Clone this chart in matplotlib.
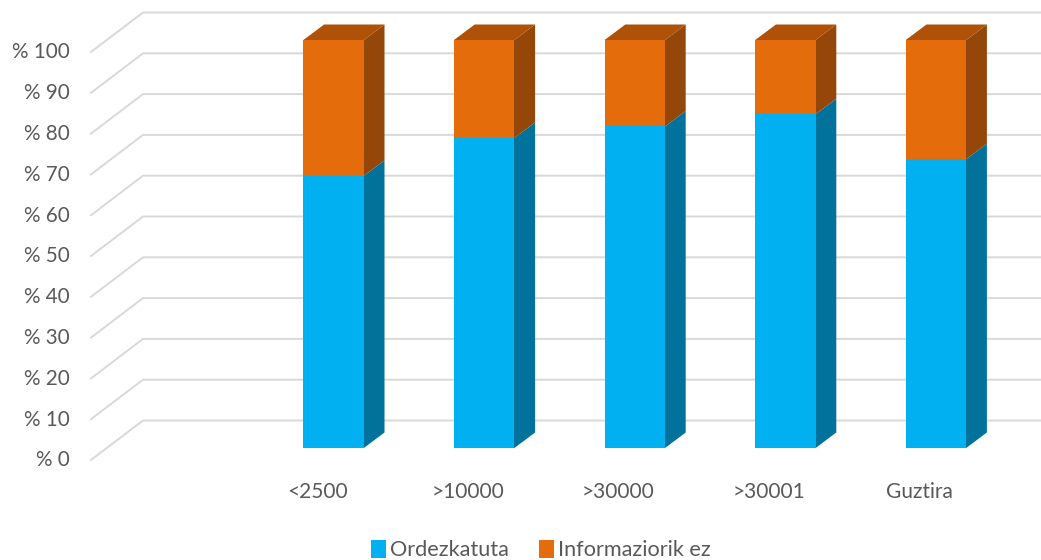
import matplotlib
matplotlib.use("Agg")
import matplotlib.pyplot as plt
from matplotlib.patches import Polygon, Patch

categories = ["<2500", ">10000", ">30000", ">30001", "Guztira"]
ordezkatuta = [66.7, 76, 78.8, 81.8, 70.8]
informaziorik = [33.3, 24, 21.2, 18.2, 29.2]
ticks = [0, 10, 20, 30, 40, 50, 60, 70, 80, 90, 100]
tick_labels = ["% 0", "% 10", "% 20", "% 30", "% 40", "% 50", "% 60", "% 70", "% 80", "% 90", "% 100"]

W, H = 1041, 560
plt.rcParams["font.family"] = ["Lato", "DejaVu Sans"]
fig = plt.figure(figsize=(W / 100, H / 100), dpi=100)
ax = fig.add_axes([0, 0, 1, 1])

# scale: category index -> pixel, percent -> pixel (y inverted in picture)
X0, XS = 333.6, 150.6
Y0, YS = 448.0, 4.08
ax.set_xlim((0 - X0) / XS, (W - X0) / XS)
ax.set_ylim((Y0 - H) / YS, Y0 / YS)
ax.axis("off")

px = 1 / XS     # one pixel in x units
py = 1 / YS     # one pixel in y units
bar_w = 60.4 * px
dx, dy = 20.7 * px, 15.5 * py

GRID = "#D9D9D9"
left_front = (91 - X0) / XS
left_back = (143 - X0) / XS
right_back = (W - X0) / XS
front_drop = -12 * py
back_rise = 27.5 * py
for t, lab in zip(ticks, tick_labels):
    ax.plot([left_front, left_back, right_back],
            [t + front_drop, t + back_rise, t + back_rise],
            color=GRID, lw=1.4, zorder=1, solid_joinstyle="miter", clip_on=False)
    ax.text((69.5 - X0) / XS, t - 12.5 * py, lab,
            ha="right", va="center", fontsize=14.9, color="#595959")

def box(i, bottom, height, front, side, top=None):
    l, r = i - bar_w / 2, i + bar_w / 2
    b, t = bottom, bottom + height
    ax.bar(i, height, bar_w, bottom=bottom, color=front, zorder=3, lw=0)
    inset = 1.5 * px   # side runs under the front face, so no seam shows
    ax.add_patch(Polygon([(r - inset, b), (r, b), (r + dx, b + dy), (r + dx, t + dy), (r, t), (r - inset, t)],
                         closed=True, fc=side, ec="none", zorder=2.5))
    if top:
        ax.add_patch(Polygon([(l, t), (l + dx, t + dy), (r + dx, t + dy), (r, t)],
                             closed=True, fc=top, ec="none", zorder=2.5))

BLUE, BLUE_S = "#00B0F0", "#00729C"
OR, OR_S, OR_T = "#E46C0A", "#954709", "#AF5207"
for i, (a, b) in enumerate(zip(ordezkatuta, informaziorik)):
    box(i, 0, a, BLUE, BLUE_S)
    box(i, a, b, OR, OR_S, OR_T)
    ax.text(i - 16.5 * px, -43.5 * py, categories[i], ha="center", va="center",
            fontsize=15, color="#595959")

handles = [Patch(fc=BLUE, label="Ordezkatuta"), Patch(fc=OR, label="Informaziorik ez")]
fig.legend(handles=handles, ncol=2, loc="center", bbox_to_anchor=(541 / W, 1 - 550 / H),
           frameon=False, fontsize=15.6, labelcolor="#595959", handlelength=0.66, handleheight=0.95,
           handletextpad=0.2, columnspacing=1.4, borderpad=0)
fig.savefig("out.png", dpi=100)
